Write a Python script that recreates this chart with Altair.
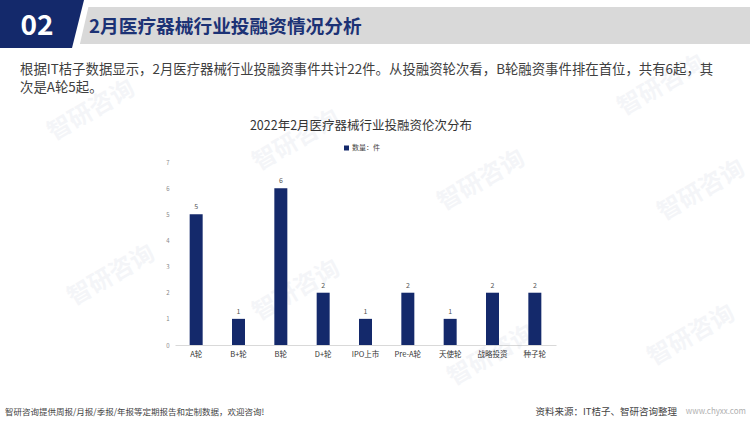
import altair as alt
import pandas as pd

categories = ["A轮", "B+轮", "B轮", "D+轮", "IPO上市", "Pre-A轮", "天使轮", "战略投资", "种子轮"]
counts = [5, 1, 6, 2, 1, 2, 1, 2, 2]
y_ticks = [0, 1, 2, 3, 4, 5, 6, 7]

FONT = "Noto Sans CJK SC"
NAVY = "#14296b"
OX, OY = 175, 162          # plot-area origin in page pixels
PW, PH = 381, 183          # plot-area size

df = pd.DataFrame({"cat": categories, "n": counts})
one = pd.DataFrame({"_": [0]})


def px(x):
    return alt.value(x - OX)


def py(y):
    return alt.value(y - OY)


def text(t, x, y, size, color="#333333", weight="normal", align="left", angle=0, opacity=1.0):
    kw = dict(text=t, fontSize=size, color=color, font=FONT, fontWeight=weight,
              align=align, baseline="middle", opacity=opacity)
    if angle:
        kw["angle"] = angle
    return alt.Chart(one).mark_text(**kw).encode(x=px(x), y=py(y))


def poly(points, color):
    xs = [p[0] for p in points]
    ys = [p[1] for p in points]
    cx = (min(xs) + max(xs)) / 2
    cy = (min(ys) + max(ys)) / 2
    side = max(max(xs) - min(xs), max(ys) - min(ys))
    h = side / 2
    path = "M" + " L".join(f"{(x - cx) / h:.4f},{(y - cy) / h:.4f}" for x, y in points) + " Z"
    return alt.Chart(one).mark_point(shape=path, filled=True, size=side * side,
                                     color=color, opacity=1, strokeWidth=0).encode(x=px(cx), y=py(cy))


def rect(x1, y1, x2, y2, color):
    return alt.Chart(one).mark_rect(color=color).encode(x=px(x1), x2=px(x2), y=py(y1), y2=py(y2))


layers = []

# watermarks
for (wx, wy) in [(50, 135), (255, 165), (440, 205), (660, 215), (70, 300), (255, 315),
                 (450, 380), (620, 110), (650, 360)]:
    layers.append(text("智研咨询", wx, wy, 24, color="#8a9bb8", weight="bold", angle=330, opacity=0.09))

# header
layers.append(rect(70, 7, 750, 44, "#d9d9d9"))
layers.append(poly([(82, 0), (90, 0), (79, 48), (71, 48)], "#ffffff"))
layers.append(poly([(0, 0), (84, 0), (72, 48), (0, 48)], NAVY))
layers.append(text("02", 37, 27, 28, color="#ffffff", weight="bold", align="center"))
layers.append(text("2月医疗器械行业投融资情况分析", 89, 27, 18.7, color="#1c3275", weight="bold"))

# paragraph
layers.append(text("根据IT桔子数据显示，2月医疗器械行业投融资事件共计22件。从投融资轮次看，B轮融资事件排在首位，共有6起，其",
                   20, 70, 13.4, color="#404040"))
layers.append(text("次是A轮5起。", 20, 88, 13.4, color="#404040"))

# chart title and legend
layers.append(text("2022年2月医疗器械行业投融资伦次分布", 361, 126, 12.5, color="#333333", align="center"))
layers.append(rect(344, 145.5, 349, 150.5, NAVY))
layers.append(text("数量：件", 352, 148, 7, color="#444444"))

# footer
layers.append(text("智研咨询提供周报/月报/季报/年报等定期报告和定制数据，欢迎咨询!", 5, 412, 8.5, color="#444444"))
layers.append(text("资料来源：IT桔子、智研咨询整理", 677, 412, 9.5, color="#444444", align="right"))
layers.append(text("www.chyxx.com", 746, 412, 8, color="#b0b0b0", align="right"))

x_enc = alt.X("cat:N", sort=categories,
              scale=alt.Scale(paddingInner=0, paddingOuter=0),
              axis=alt.Axis(title=None, labelAngle=0, labelFont=FONT, labelFontSize=7.5,
                            labelColor="#333333", ticks=False, domainColor="#d9d9d9",
                            labelPadding=5))
y_enc = alt.Y("n:Q", scale=alt.Scale(domain=[0, 7], nice=False),
              axis=alt.Axis(title=None, values=y_ticks, labelFont=FONT, labelFontSize=6,
                            labelColor="#888888", ticks=False, domain=False, grid=False,
                            labelPadding=6, labelOverlap=False, labelBound=False))

bars = alt.Chart(df).mark_bar(size=13, color=NAVY).encode(x=x_enc, y=y_enc)
labels = alt.Chart(df).mark_text(dy=-7, fontSize=7, color="#555555", font=FONT).encode(
    x=x_enc, y=y_enc, text="n:Q")

chart = alt.layer(*layers, bars, labels).properties(
    width=PW, height=PH,
    padding={"left": OX, "top": OY, "right": 750 - OX - PW, "bottom": 422 - OY - PH},
    autosize=alt.AutoSizeParams(type="none"),
    background="#ffffff",
).configure_view(stroke=None).configure_axisY(labelOverlap=False)

chart.save("out.html", embed_options={"renderer": "svg", "actions": False})
